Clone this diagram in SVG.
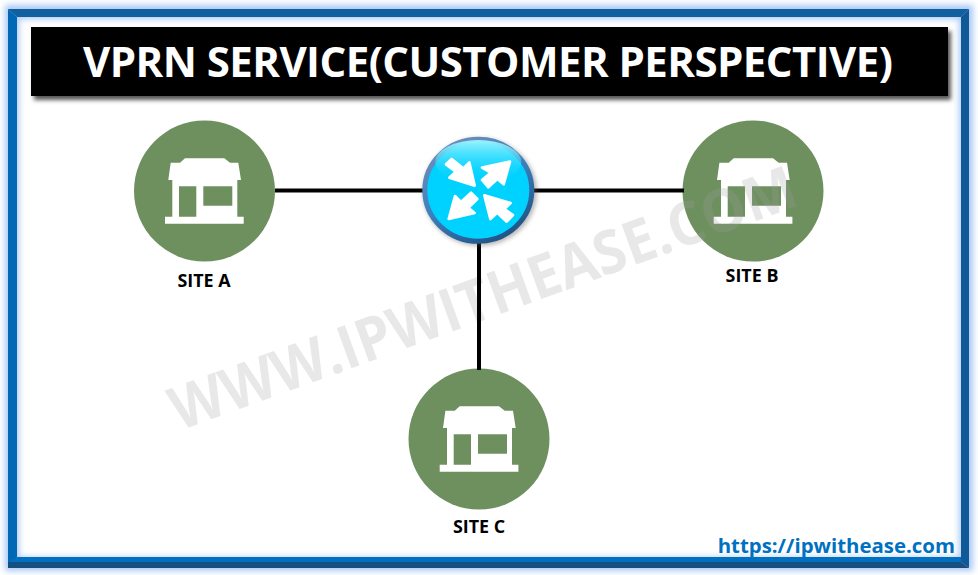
<svg xmlns="http://www.w3.org/2000/svg" width="978" height="575" viewBox="0 0 978 575">
<style>
.site{fill:#6e905f}
.icon{fill:#fff}
.lbl{font-family:"Open Sans","Liberation Sans",sans-serif;font-weight:700;font-size:17.900px;fill:#000;text-anchor:middle}
.conn{stroke:#000;stroke-width:4;fill:none}
</style>
<defs>
<filter id="glow" x="-5%" y="-5%" width="110%" height="110%"><feGaussianBlur stdDeviation="3"/></filter>
<filter id="sh" x="-5%" y="-20%" width="110%" height="140%"><feGaussianBlur stdDeviation="2"/></filter>
<linearGradient id="rim" x1="0.2" y1="0" x2="0.8" y2="1"><stop offset="0" stop-color="#6f8fbc"/><stop offset="0.5" stop-color="#3a7fbc"/><stop offset="1" stop-color="#1f4f80"/></linearGradient>
<linearGradient id="hl" x1="0" y1="0" x2="0" y2="1"><stop offset="0" stop-color="#9df3ff"/><stop offset="1" stop-color="#00d2ff" stop-opacity="0"/></linearGradient>
<g id="shop">
<path class="icon" d="M-19.300-32.700H20L25.700-28.300H34L36.700-11H-36L-33.600-28.300H-24.300Z"/>
<path class="icon" fill-rule="evenodd" d="M-32-11H33V25.700H39.400V32.700H-39.300V25.700H-32ZM-25.300-4.700V25.700H-8V-4.700ZM-1-4.700V14.700H28V-4.700Z"/>
</g>
</defs>
<rect width="978" height="575" fill="#fff"/>
<g id="frame">
<rect x="12" y="12" width="954" height="552" fill="none" stroke="#a9c8f5" stroke-width="14" filter="url(#glow)"/>
<polygon points="8,9 969,9 961,17 17,17" fill="#105f9f"/>
<polygon points="8,9 17,17 17,557 8,568" fill="#0068b4"/>
<polygon points="969,9 969,568 961,562 961,17" fill="#0f5a96"/>
<polygon points="17,557 961,557 961,562 8,562" fill="#0070c0"/>
<polygon points="8,562 961,562 969,568 8,568" fill="#17507f"/>
</g>
<g id="title">
<rect x="34" y="31" width="917" height="69" fill="#555" filter="url(#sh)"/>
<rect x="31" y="27" width="917" height="69" fill="#000"/>
<text x="83" y="77" font-family="'Open Sans','Liberation Sans',sans-serif" font-weight="700" font-size="42" fill="#fff" textLength="810" lengthAdjust="spacing">VPRN SERVICE(CUSTOMER PERSPECTIVE)</text>
</g>
<g id="site-a">
<circle class="site" cx="204.500" cy="191" r="70.500"/>
<use href="#shop" x="204.300" y="191"/>
<text class="lbl" x="204" y="287">SITE A</text>
</g>
<g id="site-b">
<circle class="site" cx="753" cy="191" r="70.500"/>
<use href="#shop" x="753" y="191"/>
<text class="lbl" x="752" y="282">SITE B</text>
</g>
<g id="site-c">
<circle class="site" cx="479" cy="439" r="70.500"/>
<use href="#shop" x="479" y="439"/>
<text class="lbl" x="479" y="533">SITE C</text>
</g>
<text id="watermark" transform="translate(179 431) rotate(-20)" font-family="'Open Sans','Liberation Sans',sans-serif" font-weight="700" font-size="60" fill="#a0a0a0" fill-opacity=".24" textLength="662" lengthAdjust="spacingAndGlyphs">WWW.IPWITHEASE.COM</text>
<g id="connectors">
<line class="conn" x1="275" y1="190.500" x2="425" y2="190.500"/>
<line class="conn" x1="533" y1="190.500" x2="684" y2="190.500"/>
<line class="conn" x1="479" y1="240" x2="479" y2="370"/>
</g>
<g id="router">
<ellipse cx="480" cy="192" rx="57" ry="54" fill="#555" opacity=".4" filter="url(#sh)"/>
<ellipse cx="478.300" cy="190.300" rx="53.500" ry="51" fill="#00d2ff" stroke="url(#rim)" stroke-width="5"/>
<ellipse cx="478.300" cy="162" rx="43" ry="22" fill="url(#hl)"/>
<g transform="translate(410 125) scale(.33333)" fill="#fff" stroke="#fff" stroke-width="8" stroke-linejoin="round">
<polygon points="125,102 160,130 178,112 194,182 118,158 137,140 108,118"/>
<polygon points="300,110 281,178 262,162 235,187 216,165 242,143 216,128"/>
<polygon points="116,282 135,213 153,231 183,203 202,222 175,248 194,264"/>
<polygon points="223,211 302,234 283,252 309,270 290,290 262,263 241,282"/>
</g>
</g>
<text id="url" x="955" y="553" text-anchor="end" font-family="'Open Sans','Liberation Sans',sans-serif" font-weight="700" font-size="20.400" fill="#0070c0">https://ipwithease.com</text>
</svg>
